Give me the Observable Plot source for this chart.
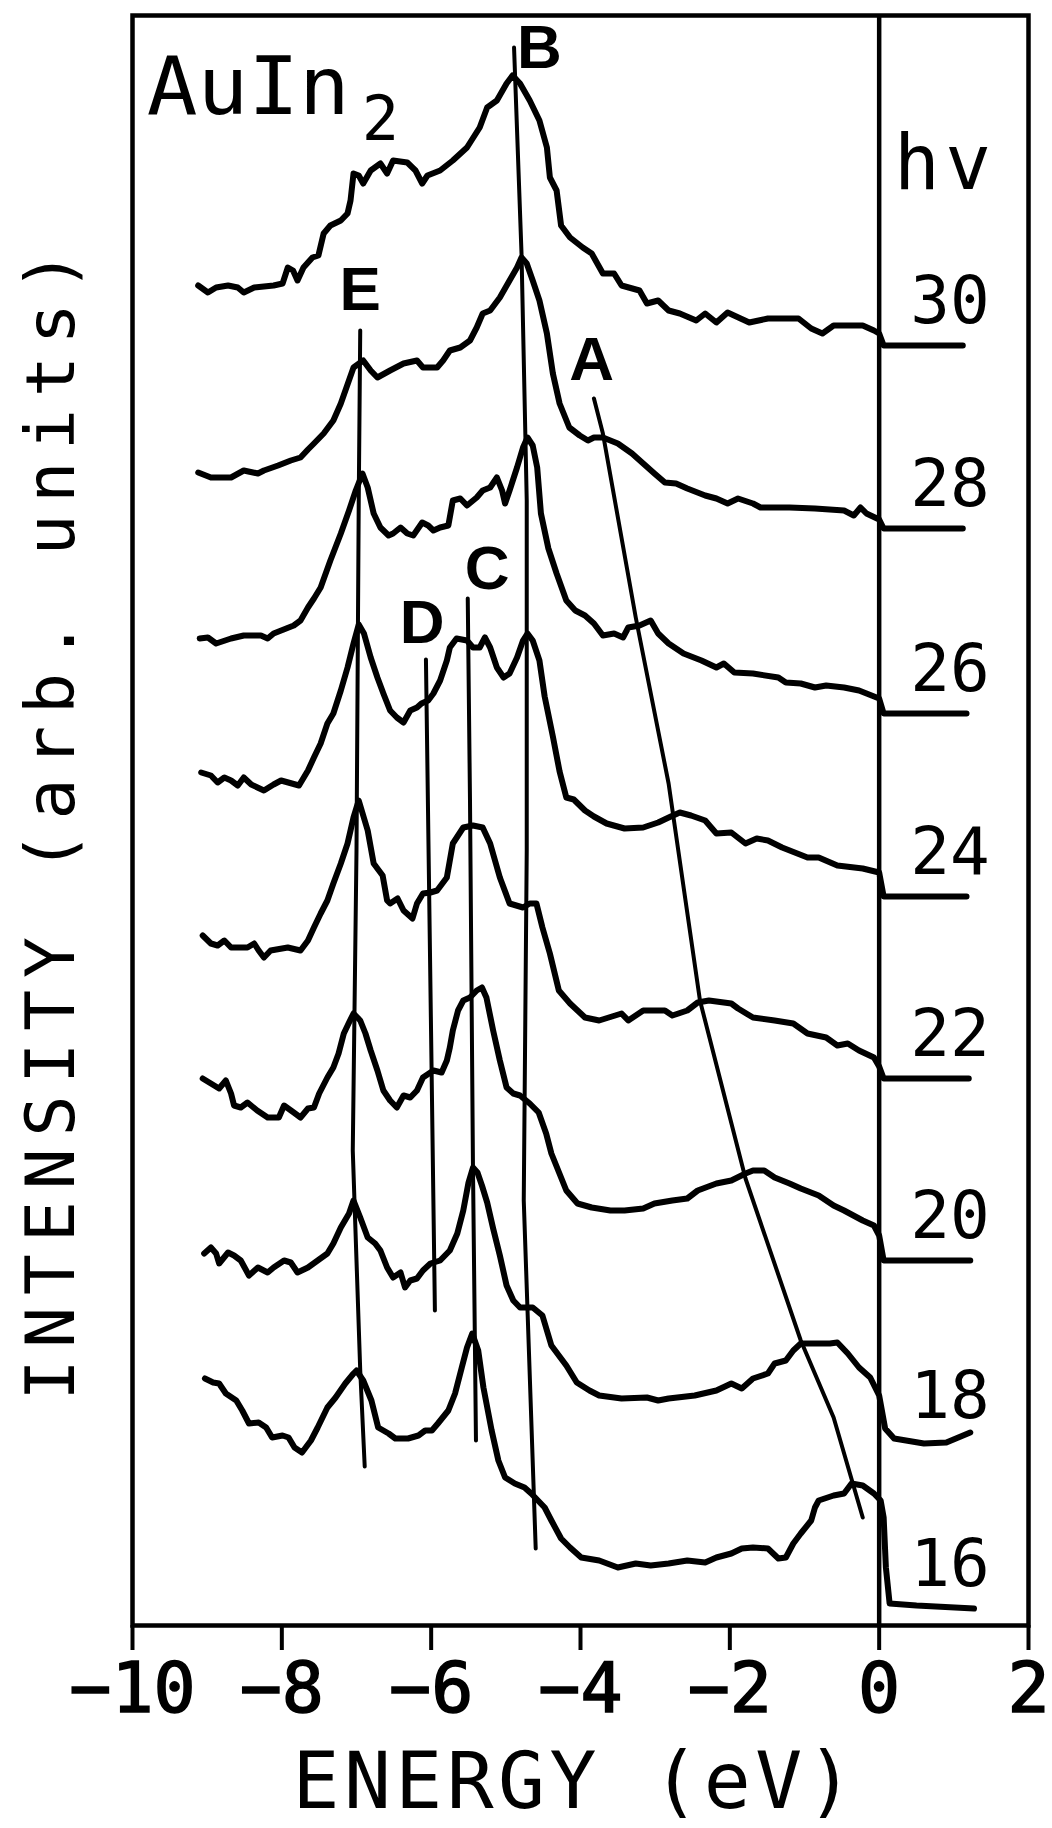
<!DOCTYPE html>
<html><head><meta charset="utf-8">
<script src="https://cdn.jsdelivr.net/npm/d3@7"></script>
<script src="https://cdn.jsdelivr.net/npm/@observablehq/plot@0.6"></script>
<style>body{margin:0;background:#fff} svg{display:block}</style>
</head><body><div id="chart"></div>
<script>
// photon energies (eV) of the spectra, top to bottom, and their vertical offsets
const hv = [30, 28, 26, 24, 22, 20, 18, 16];
const baseline = [1280, 1097, 912, 729, 547, 365, 185, 17];
const xTicks = [-10, -8, -6, -4, -2, 0, 2];

// spectra: [binding energy (eV), intensity above own baseline (arb.)]
const spec30 = [[-9.12,60],[-8.99,53],[-8.88,58],[-8.72,60],[-8.59,58],[-8.51,53],[-8.37,58],[-8.11,60],[-7.99,62],[-7.92,78],[-7.85,75],[-7.79,65],[-7.71,78],[-7.59,88],[-7.51,90],[-7.44,112],[-7.35,120],[-7.21,125],[-7.12,132],[-7.08,145],[-7.04,172],[-6.97,170],[-6.91,162],[-6.81,175],[-6.68,182],[-6.59,172],[-6.51,185],[-6.32,183],[-6.21,175],[-6.12,162],[-6.05,170],[-5.88,175],[-5.71,185],[-5.52,198],[-5.35,218],[-5.25,238],[-5.12,245],[-4.99,262],[-4.91,270],[-4.81,262],[-4.68,245],[-4.55,225],[-4.45,198],[-4.41,168],[-4.32,155],[-4.26,120],[-4.14,108],[-3.97,98],[-3.85,92],[-3.70,72],[-3.55,72],[-3.45,60],[-3.21,55],[-3.11,42],[-2.96,45],[-2.82,35],[-2.67,32],[-2.45,25],[-2.33,32],[-2.18,23],[-2.03,33],[-1.74,23],[-1.49,27],[-1.08,27],[-0.91,17],[-0.76,12],[-0.61,20],[-0.22,20],[-0.07,15],[0,12],[0.06,0],[1.12,0]];
const spec28 = [[-9.12,56],[-8.95,51],[-8.68,51],[-8.51,58],[-8.32,55],[-8.24,58],[-8.05,63],[-7.88,68],[-7.75,71],[-7.65,79],[-7.57,85],[-7.44,95],[-7.31,108],[-7.21,125],[-7.04,161],[-6.91,168],[-6.81,158],[-6.72,151],[-6.55,158],[-6.37,165],[-6.19,168],[-6.11,161],[-5.92,161],[-5.84,168],[-5.75,178],[-5.61,181],[-5.48,188],[-5.39,201],[-5.31,215],[-5.21,218],[-5.08,231],[-4.95,248],[-4.85,261],[-4.79,271],[-4.72,265],[-4.64,248],[-4.55,228],[-4.45,195],[-4.37,155],[-4.28,125],[-4.15,101],[-4.01,93],[-3.90,88],[-3.82,91],[-3.70,91],[-3.50,85],[-3.31,75],[-3.16,65],[-3.01,55],[-2.87,46],[-2.72,45],[-2.57,40],[-2.33,33],[-2.18,30],[-2.03,25],[-1.89,30],[-1.69,25],[-1.59,21],[-1.20,21],[-0.86,20],[-0.47,18],[-0.34,13],[-0.25,21],[-0.17,15],[0,9],[0.06,0],[1.12,0]];
const spec26 = [[-9.10,75],[-8.99,76],[-8.88,70],[-8.68,75],[-8.51,78],[-8.28,78],[-8.19,75],[-8.11,80],[-7.84,88],[-7.75,93],[-7.65,106],[-7.57,115],[-7.48,126],[-7.35,153],[-7.21,180],[-7.10,203],[-7.01,223],[-6.92,240],[-6.85,226],[-6.77,200],[-6.68,186],[-6.57,178],[-6.51,180],[-6.41,186],[-6.32,180],[-6.24,178],[-6.12,191],[-6.04,188],[-5.97,183],[-5.88,186],[-5.77,188],[-5.71,213],[-5.61,215],[-5.52,208],[-5.39,216],[-5.31,223],[-5.21,226],[-5.12,236],[-5.05,223],[-5.01,210],[-4.95,223],[-4.85,246],[-4.77,266],[-4.71,276],[-4.64,268],[-4.58,246],[-4.53,200],[-4.43,165],[-4.32,140],[-4.19,113],[-4.07,103],[-3.94,98],[-3.82,90],[-3.70,78],[-3.55,80],[-3.43,76],[-3.36,86],[-3.21,88],[-3.06,93],[-2.96,80],[-2.82,70],[-2.62,60],[-2.38,53],[-2.18,46],[-2.08,50],[-1.94,41],[-1.69,40],[-1.35,36],[-1.25,31],[-1.05,30],[-0.86,26],[-0.71,28],[-0.47,26],[-0.27,23],[0,15],[0.06,0],[1.17,0]];
const spec24 = [[-9.08,124],[-8.95,121],[-8.86,114],[-8.77,119],[-8.68,116],[-8.59,111],[-8.51,119],[-8.41,112],[-8.24,106],[-8.11,112],[-8.01,116],[-7.77,111],[-7.65,126],[-7.57,139],[-7.48,153],[-7.39,173],[-7.31,183],[-7.21,206],[-7.12,229],[-7.04,253],[-6.97,272],[-6.90,263],[-6.81,239],[-6.72,219],[-6.64,203],[-6.55,186],[-6.46,179],[-6.37,174],[-6.28,186],[-6.19,189],[-6.13,193],[-6.04,196],[-5.97,203],[-5.88,216],[-5.79,236],[-5.75,249],[-5.66,258],[-5.52,256],[-5.44,249],[-5.35,249],[-5.28,259],[-5.21,249],[-5.12,229],[-5.03,219],[-4.95,223],[-4.85,239],[-4.77,256],[-4.71,263],[-4.64,256],[-4.55,236],[-4.48,200],[-4.37,160],[-4.28,125],[-4.19,99],[-4.09,97],[-3.94,86],[-3.82,80],[-3.65,73],[-3.41,68],[-3.16,69],[-2.96,74],[-2.79,80],[-2.67,84],[-2.52,81],[-2.33,76],[-2.18,63],[-1.98,64],[-1.79,53],[-1.64,58],[-1.49,56],[-1.30,49],[-0.96,39],[-0.81,39],[-0.56,31],[-0.22,28],[0,24],[0.06,0],[1.17,0]];
const spec22 = [[-9.06,143],[-8.95,135],[-8.86,133],[-8.77,138],[-8.68,131],[-8.46,131],[-8.37,135],[-8.31,128],[-8.24,121],[-8.15,128],[-7.92,131],[-7.75,128],[-7.65,138],[-7.57,151],[-7.48,165],[-7.39,178],[-7.31,195],[-7.21,215],[-7.12,235],[-7.04,261],[-6.97,278],[-6.85,248],[-6.77,215],[-6.65,203],[-6.59,178],[-6.55,175],[-6.45,180],[-6.37,168],[-6.25,160],[-6.19,175],[-6.11,185],[-6.01,186],[-5.92,188],[-5.79,201],[-5.71,235],[-5.57,251],[-5.44,253],[-5.31,251],[-5.21,235],[-5.08,201],[-4.95,175],[-4.77,171],[-4.68,175],[-4.59,175],[-4.51,151],[-4.41,125],[-4.29,88],[-4.14,75],[-3.94,61],[-3.75,58],[-3.45,65],[-3.36,58],[-3.16,68],[-2.87,68],[-2.77,63],[-2.57,68],[-2.43,76],[-2.28,78],[-1.98,75],[-1.89,70],[-1.69,61],[-1.40,58],[-1.15,55],[-0.96,45],[-0.71,41],[-0.56,33],[-0.42,35],[-0.27,28],[-0.07,21],[0,12],[0.06,0],[1.2,0]];
const spec20 = [[-9.06,182],[-8.95,177],[-8.84,172],[-8.75,180],[-8.68,167],[-8.64,155],[-8.55,153],[-8.46,158],[-8.33,150],[-8.19,143],[-8.04,143],[-7.97,155],[-7.84,148],[-7.75,143],[-7.65,152],[-7.57,153],[-7.50,167],[-7.39,183],[-7.31,193],[-7.24,207],[-7.17,227],[-7.10,238],[-7.04,247],[-6.95,240],[-6.88,227],[-6.81,210],[-6.72,190],[-6.64,170],[-6.55,160],[-6.46,153],[-6.37,165],[-6.28,163],[-6.19,170],[-6.11,183],[-5.97,190],[-5.86,188],[-5.79,200],[-5.75,213],[-5.71,230],[-5.64,250],[-5.57,260],[-5.48,263],[-5.39,270],[-5.32,273],[-5.26,263],[-5.17,230],[-5.08,200],[-4.99,173],[-4.90,167],[-4.81,165],[-4.68,157],[-4.56,148],[-4.46,127],[-4.39,107],[-4.19,70],[-4.04,57],[-3.85,53],[-3.60,50],[-3.41,50],[-3.16,52],[-3.01,57],[-2.77,60],[-2.57,62],[-2.43,70],[-2.18,77],[-1.98,80],[-1.79,87],[-1.69,90],[-1.54,90],[-1.40,83],[-1.20,77],[-1.05,72],[-0.81,65],[-0.61,55],[-0.47,50],[-0.22,40],[-0.07,35],[0,25],[0.06,0],[1.22,0]];
const spec18 = [[-9.04,187],[-8.95,193],[-8.88,187],[-8.84,177],[-8.72,188],[-8.64,185],[-8.55,180],[-8.44,165],[-8.32,173],[-8.19,168],[-8.11,173],[-7.97,180],[-7.88,178],[-7.79,168],[-7.65,173],[-7.52,180],[-7.39,187],[-7.31,197],[-7.21,213],[-7.10,227],[-7.04,240],[-6.95,223],[-6.85,203],[-6.75,197],[-6.68,190],[-6.59,173],[-6.51,163],[-6.41,168],[-6.35,153],[-6.28,160],[-6.19,162],[-6.11,170],[-6.01,177],[-5.88,180],[-5.75,190],[-5.65,207],[-5.57,230],[-5.50,258],[-5.44,273],[-5.38,268],[-5.32,255],[-5.25,238],[-5.17,212],[-5.08,185],[-4.99,155],[-4.90,140],[-4.81,133],[-4.64,133],[-4.51,125],[-4.39,95],[-4.19,75],[-4.05,58],[-3.88,50],[-3.75,45],[-3.45,42],[-3.11,43],[-2.96,40],[-2.82,42],[-2.47,45],[-2.18,50],[-1.98,57],[-1.84,52],[-1.69,62],[-1.49,67],[-1.40,77],[-1.25,80],[-1.15,90],[-1.05,97],[-0.66,97],[-0.56,98],[-0.42,87],[-0.27,73],[-0.12,63],[0,45],[0.08,12],[0.2,2],[0.6,-3],[0.9,-2],[1.22,8]];
const spec16 = [[-9.03,230],[-8.92,226],[-8.84,225],[-8.75,215],[-8.61,208],[-8.53,198],[-8.44,185],[-8.31,186],[-8.21,181],[-8.13,171],[-7.99,173],[-7.91,171],[-7.83,161],[-7.73,156],[-7.61,168],[-7.52,181],[-7.39,201],[-7.28,211],[-7.15,225],[-7.04,235],[-7.00,238],[-6.91,228],[-6.80,208],[-6.71,181],[-6.57,175],[-6.48,170],[-6.31,170],[-6.17,173],[-6.08,178],[-5.99,178],[-5.91,185],[-5.77,198],[-5.68,215],[-5.59,241],[-5.52,261],[-5.45,275],[-5.37,258],[-5.30,221],[-5.19,178],[-5.10,148],[-5.01,131],[-4.88,125],[-4.75,121],[-4.66,115],[-4.48,101],[-4.39,88],[-4.26,70],[-4.14,61],[-3.99,51],[-3.75,48],[-3.50,41],[-3.26,45],[-3.06,43],[-2.82,45],[-2.57,48],[-2.33,46],[-2.18,51],[-1.98,55],[-1.84,60],[-1.69,61],[-1.49,60],[-1.35,50],[-1.25,51],[-1.15,65],[-1.05,75],[-0.91,88],[-0.86,101],[-0.81,108],[-0.61,113],[-0.47,115],[-0.37,125],[-0.22,123],[-0.07,115],[0.02,108],[0.06,91],[0.09,41],[0.14,5],[0.5,3],[1.27,0]];
const spectra = [spec30, spec28, spec26, spec24, spec22, spec20, spec18, spec16];

// peak-dispersion guide lines: [energy, height on the stacked scale]
const lineA = [[-3.82,1227],[-3.70,1192],[-3.26,1008],[-2.82,842],[-2.40,625],[-1.79,447],[-1.05,285],[-0.61,208],[-0.22,108]];
const lineB = [[-4.89,1578],[-4.79,1372],[-4.72,1125],[-4.72,775],[-4.76,425],[-4.60,77]];
const lineC = [[-5.51,1027],[-5.48,825],[-5.44,458],[-5.40,185]];
const lineD = [[-6.07,966],[-5.95,315]];
const lineE = [[-6.95,1295],[-6.97,1125],[-7.00,775],[-7.05,475],[-6.95,255],[-6.89,159]];
const peakNames = ["A", "B", "C", "D", "E"];
const peakLines = [lineA, lineB, lineC, lineD, lineE];
const peakLabelE = [-3.85, -4.55, -5.25, -6.12, -6.95];
const peakLabelH = [1265, 1577, 1056, 1002, 1335];

// build tables
const rows = [];
spectra.forEach((s, i) => s.forEach(([e, v]) => rows.push({hv: hv[i], E: e, h: baseline[i] + v})));
const guideRows = [];
peakLines.forEach((l, i) => l.forEach(([e, h]) => guideRows.push({name: peakNames[i], E: e, h})));
const peakText = peakNames.map((n, i) => ({t: n, E: peakLabelE[i], h: peakLabelH[i]}));
const hvText = hv.map((v, i) => ({t: String(v), E: 0.95, h: baseline[i] + 44}));
const mono = "DejaVu Sans Mono";
const xTitle = "ENERGY (eV)";
const yTitle = "INTENSITY (arb. units)";

const chart = Plot.plot({
  width: 1052, height: 1828,
  marginTop: 15, marginRight: 24, marginBottom: 203, marginLeft: 132,
  style: {background: "white", color: "black"},
  x: {domain: [-10, 2]},
  y: {domain: [0, 1610], axis: null},
  marks: [
    Plot.frame({stroke: "black", strokeWidth: 4.5}),
    Plot.ruleX([0], {stroke: "black", strokeWidth: 4.5}),
    Plot.line(guideRows, {x: "E", y: "h", z: "name", stroke: "black", strokeWidth: 4, strokeLinecap: "round"}),
    Plot.line(rows, {x: "E", y: "h", z: "hv", stroke: "black", strokeWidth: 6, strokeLinejoin: "round", strokeLinecap: "round"}),
    Plot.text(peakText, {x: "E", y: "h", text: "t", fontFamily: "Liberation Sans", fontWeight: "bold", fontSize: 62, lineAnchor: "middle", fill: "black"}),
    Plot.text(hvText, {x: "E", y: "h", text: "t", fontFamily: mono, fontSize: 66, lineAnchor: "middle", fill: "black"}),
    Plot.text([{t: "hv", E: 0.2, h: 1437}], {x: "E", y: "h", text: "t", fontFamily: mono, fontSize: 76, textAnchor: "start", lineAnchor: "bottom", fill: "black"}),
    Plot.text([{t: "AuIn", E: -9.81, h: 1512}], {x: "E", y: "h", text: "t", fontFamily: mono, fontSize: 80, textAnchor: "start", lineAnchor: "bottom", fill: "black"}),
    Plot.text([{t: "2", E: -6.93, h: 1486}], {x: "E", y: "h", text: "t", fontFamily: mono, fontSize: 62, textAnchor: "start", lineAnchor: "bottom", fill: "black"}),
    Plot.axisX({ticks: xTicks, tickSize: 25, tickPadding: 12, fontSize: 70, fontFamily: mono, stroke: "black", strokeWidth: 4, label: null}),
    Plot.text([xTitle], {frameAnchor: "bottom-left", dx: 160, dy: 182, textAnchor: "start", lineAnchor: "bottom", fontFamily: mono, fontSize: 78, fill: "black"}),
    Plot.text([yTitle], {frameAnchor: "bottom-left", rotate: -90, dx: -80, dy: -225, textAnchor: "start", lineAnchor: "middle", fontFamily: mono, fontSize: 68, fill: "black"})
  ]
});
document.getElementById("chart").append(chart);
const svg = d3.select(chart);
const byText = (s) => svg.selectAll("text").filter(function() { return this.textContent === s; });
byText(xTitle).attr("textLength", 561).attr("lengthAdjust", "spacing");
byText(yTitle).attr("textLength", 1150).attr("lengthAdjust", "spacing");
byText("AuIn").attr("textLength", 203).attr("lengthAdjust", "spacingAndGlyphs");
byText("hv").attr("textLength", 97).attr("lengthAdjust", "spacing");
svg.selectAll('g[aria-label="x-axis tick label"] text').attr("stroke", "black").attr("stroke-width", 1.6);
</script>
</body></html>
